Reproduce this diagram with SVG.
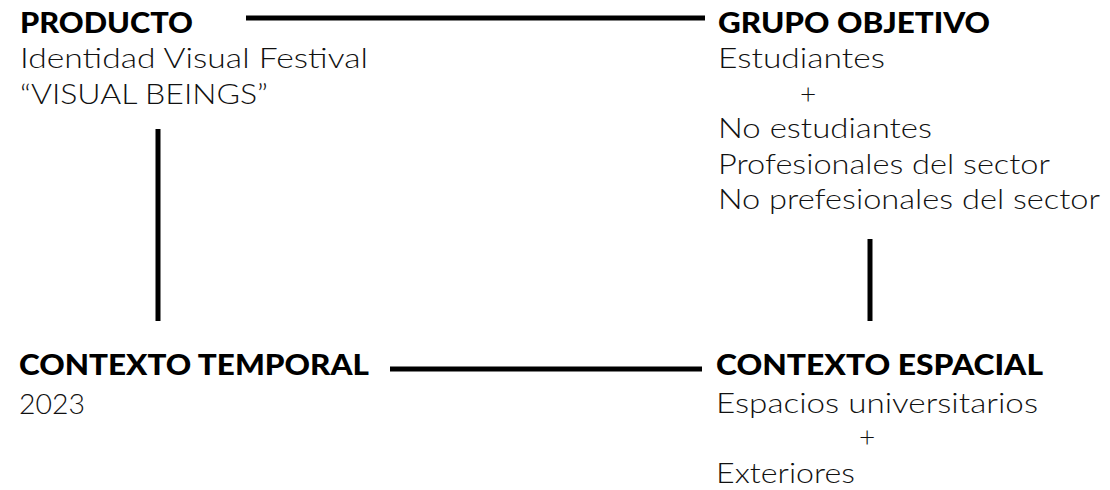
<svg xmlns="http://www.w3.org/2000/svg" width="1110" height="490" viewBox="0 0 1110 490">
<style>
.h{font-family:Lato,"Open Sans","Liberation Sans",sans-serif;font-weight:900;font-size:28px;fill:#000}
.b{font-family:Lato,"Open Sans","Liberation Sans",sans-serif;font-weight:300;font-size:28px;fill:#111}
.c{stroke:#000;stroke-width:5;fill:none}
</style>
<rect width="1110" height="490" fill="#fff"/>
<g id="connectors">
<line class="c" x1="246" y1="18" x2="705" y2="18"/>
<line class="c" x1="158" y1="129" x2="158" y2="321"/>
<line class="c" x1="870" y1="239" x2="870" y2="321"/>
<line class="c" x1="390" y1="369" x2="702" y2="369"/>
</g>
<g id="producto">
<text class="h" x="20" y="33" textLength="173" lengthAdjust="spacingAndGlyphs">PRODUCTO</text>
<text class="b" x="20" y="68" textLength="348" lengthAdjust="spacingAndGlyphs">Identidad Visual Festival</text>
<text class="b" x="20" y="104" textLength="248" lengthAdjust="spacingAndGlyphs">“VISUAL BEINGS”</text>
</g>
<g id="grupo-objetivo">
<text class="h" x="718" y="33" textLength="272" lengthAdjust="spacingAndGlyphs">GRUPO OBJETIVO</text>
<text class="b" x="718" y="68" textLength="167" lengthAdjust="spacingAndGlyphs">Estudiantes</text>
<text class="b" x="808" y="104" text-anchor="middle">+</text>
<text class="b" x="718" y="138" textLength="214" lengthAdjust="spacingAndGlyphs">No estudiantes</text>
<text class="b" x="718" y="174" textLength="332" lengthAdjust="spacingAndGlyphs">Profesionales del sector</text>
<text class="b" x="718" y="209" textLength="382" lengthAdjust="spacingAndGlyphs">No prefesionales del sector</text>
</g>
<g id="contexto-temporal">
<text class="h" x="19" y="375" textLength="350" lengthAdjust="spacingAndGlyphs">CONTEXTO TEMPORAL</text>
<text class="b" x="19" y="414" textLength="66" lengthAdjust="spacingAndGlyphs">2023</text>
</g>
<g id="contexto-espacial">
<text class="h" x="716" y="375" textLength="327" lengthAdjust="spacingAndGlyphs">CONTEXTO ESPACIAL</text>
<text class="b" x="716" y="413" textLength="322" lengthAdjust="spacingAndGlyphs">Espacios universitarios</text>
<text class="b" x="867" y="447" text-anchor="middle">+</text>
<text class="b" x="716" y="483" textLength="139" lengthAdjust="spacingAndGlyphs">Exteriores</text>
</g>
</svg>
